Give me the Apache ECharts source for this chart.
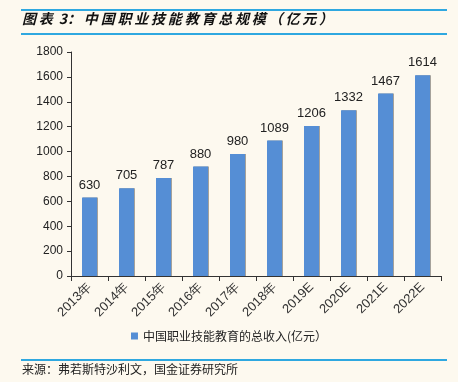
<!DOCTYPE html>
<html>
<head>
<meta charset="utf-8">
<script src="https://cdn.jsdelivr.net/npm/echarts@6/dist/echarts.min.js"></script>
<style>
  html, body { margin: 0; padding: 0; background: #FDF9EF; }
  #main { width: 458px; height: 382px; }
</style>
</head>
<body>
<div id="main"></div>
<script>
// 年份和总收入（亿元）
var years = ['2013年', '2014年', '2015年', '2016年', '2017年', '2018年', '2019E', '2020E', '2021E', '2022E'];
var revenue = [630, 705, 787, 880, 980, 1089, 1206, 1332, 1467, 1614];
var seriesName = '中国职业技能教育的总收入(亿元）';

var chart = echarts.init(document.getElementById('main'));
var font = '"Liberation Sans", Arial, sans-serif';
var ts = '\u2009';
var titleText = ['图', '表', ' 3：', '中', '国', '职', '业', '技', '能', '教', '育', '总', '规', '模', '（', '亿', '元', '）'].join(ts);

chart.setOption({
  backgroundColor: '#FDF9EF',
  animation: false,
  grid: { left: 71, right: 17, top: 52, bottom: 106 },
  graphic: [
    { type: 'rect', shape: { x: 21, y: 9, width: 426, height: 2 }, style: { fill: '#2FA8E0' } },
    { type: 'text', left: 22, top: 12, style: {
        text: titleText,
        font: 'italic bold 14px "Noto Sans CJK SC"', fill: '#111' } },
    { type: 'rect', shape: { x: 21, y: 33, width: 426, height: 2 }, style: { fill: '#2FA8E0' } },
    { type: 'rect', shape: { x: 21, y: 359, width: 426, height: 2 }, style: { fill: '#2FA8E0' } },
    { type: 'text', left: 22, top: 363, style: {
        text: '来源：弗若斯特沙利文，国金证券研究所',
        font: '12px "Noto Sans CJK SC"', fill: '#222' } }
  ],
  legend: {
    bottom: 35, left: 'center',
    itemWidth: 7, itemHeight: 7, icon: 'rect',
    textStyle: { fontSize: 12, color: '#222', fontFamily: '"Noto Sans CJK SC"' },
    data: [seriesName]
  },
  xAxis: {
    type: 'category',
    data: years,
    axisLine: { lineStyle: { color: '#333' } },
    axisTick: { show: true, alignWithLabel: false, length: 5, lineStyle: { color: '#333' } },
    axisLabel: { rotate: 45, fontSize: 13, color: '#333', fontFamily: font, margin: 9, interval: 0 }
  },
  yAxis: {
    type: 'value',
    min: 0, max: 1800, interval: 200,
    splitLine: { show: false },
    axisLine: { show: true, lineStyle: { color: '#333' } },
    axisTick: { show: true, length: 4, lineStyle: { color: '#333' } },
    axisLabel: { fontSize: 12, color: '#222', fontFamily: font, margin: 8, formatter: function (v) { return String(v); } }
  },
  series: [{
    name: seriesName,
    type: 'bar',
    data: revenue,
    barWidth: 15,
    itemStyle: { color: '#558ED5', shadowColor: 'rgba(0,0,0,0.35)', shadowOffsetX: 1, shadowOffsetY: 0, shadowBlur: 0 },
    label: { show: true, position: 'top', distance: 6, fontSize: 13, color: '#222', fontFamily: font }
  }]
});
</script>
</body>
</html>
